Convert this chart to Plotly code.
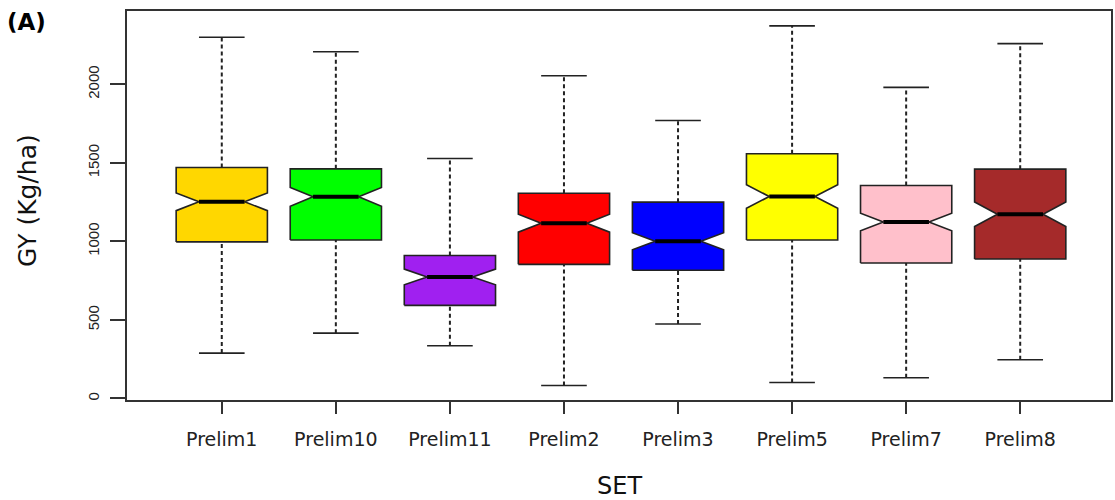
import plotly.graph_objects as go

sets = ["Prelim1", "Prelim10", "Prelim11", "Prelim2", "Prelim3", "Prelim5", "Prelim7", "Prelim8"]
q1 = [997, 1009, 593, 854, 816, 1009, 863, 888]
median = [1252, 1284, 774, 1116, 1001, 1286, 1124, 1173]
q3 = [1471, 1462, 910, 1307, 1250, 1558, 1356, 1460]
lower_whisker = [289, 416, 336, 83, 474, 102, 132, 247]
upper_whisker = [2300, 2208, 1528, 2055, 1770, 2372, 1981, 2259]
notch_half = [56, 60, 50, 57, 54, 75, 56, 78]
colors = ["#FFD700", "#00FF00", "#A020F0", "#FF0000", "#0000FF", "#FFFF00", "#FFC0CB", "#A52A2A"]
y_ticks = [0, 500, 1000, 1500, 2000]

HW = 0.4      # half box width (R boxwex 0.8)
NW = 0.2      # half width at the notch
EDGE = "#222222"
pos = list(range(1, len(sets) + 1))

fig = go.Figure()

# dashed whiskers
wx, wy = [], []
for i, p in enumerate(pos):
    wx += [p, p, None, p, p, None]
    wy += [q3[i], upper_whisker[i], None, lower_whisker[i], q1[i], None]
fig.add_trace(go.Scatter(x=wx, y=wy, mode="lines", showlegend=False, hoverinfo="skip",
                         line=dict(color=EDGE, width=2, dash="4px,3px")))

# whisker caps (staples)
cx, cy = [], []
for i, p in enumerate(pos):
    for v in (upper_whisker[i], lower_whisker[i]):
        cx += [p - HW / 2, p + HW / 2, None]
        cy += [v, v, None]
fig.add_trace(go.Scatter(x=cx, y=cy, mode="lines", showlegend=False, hoverinfo="skip",
                         line=dict(color=EDGE, width=1.6)))

# notched boxes
for i, p in enumerate(pos):
    m, n = median[i], notch_half[i]
    bx = [p - HW, p + HW, p + HW, p + NW, p + HW, p + HW, p - HW, p - HW, p - NW, p - HW, p - HW]
    by = [q1[i], q1[i], m - n, m, m + n, q3[i], q3[i], m + n, m, m - n, q1[i]]
    fig.add_trace(go.Scatter(x=bx, y=by, mode="lines", fill="toself", fillcolor=colors[i],
                             line=dict(color=EDGE, width=1.6), name=sets[i],
                             showlegend=False, hoverinfo="name"))

# thick median lines
mx, my = [], []
for i, p in enumerate(pos):
    mx += [p - NW, p + NW, None]
    my += [median[i], median[i], None]
fig.add_trace(go.Scatter(x=mx, y=my, mode="lines", showlegend=False, hoverinfo="skip",
                         line=dict(color="black", width=4)))

fig.update_layout(
    width=1115, height=500,
    margin=dict(l=127, r=2, t=11, b=100),
    paper_bgcolor="white", plot_bgcolor="white",
    showlegend=False,
    xaxis=dict(
        range=[0.169, 8.796], tickvals=pos, ticktext=sets,
        showgrid=False, zeroline=False,
        showline=True, mirror=True, linecolor="#333333", linewidth=1.5,
        ticks="outside", ticklen=12, tickwidth=1.5, tickcolor="#333333",
        tickfont=dict(family="DejaVu Sans", size=19, color="#222222"),
        ticklabelstandoff=9,
    ),
    yaxis=dict(
        range=[-9.6, 2467], tickvals=y_ticks,
        showgrid=False, zeroline=False,
        showline=True, mirror=True, linecolor="#333333", linewidth=1.5,
        ticks="outside", ticklen=15, tickwidth=1.5, tickcolor="#333333",
        tickangle=-90,
        tickfont=dict(family="Liberation Sans", size=15, color="#222222"),
        ticklabelstandoff=5,
    ),
    annotations=[
        dict(text="SET", xref="paper", yref="paper", x=0.5, y=-0.221,
             xanchor="center", yanchor="middle", showarrow=False,
             font=dict(family="DejaVu Sans", size=24, color="#111111")),
        dict(text="GY (Kg/ha)", xref="paper", yref="paper",
             x=-0.1005, y=0.512, xanchor="center", yanchor="middle", textangle=-90,
             showarrow=False, font=dict(family="DejaVu Sans", size=25, color="#111111")),
        dict(text="<b>(A)</b>", xref="paper", yref="paper", x=-0.1024, y=0.972,
             xanchor="center", yanchor="middle", showarrow=False,
             font=dict(family="DejaVu Sans", size=23, color="#000000")),
    ],
)

fig.write_html("out.html")
